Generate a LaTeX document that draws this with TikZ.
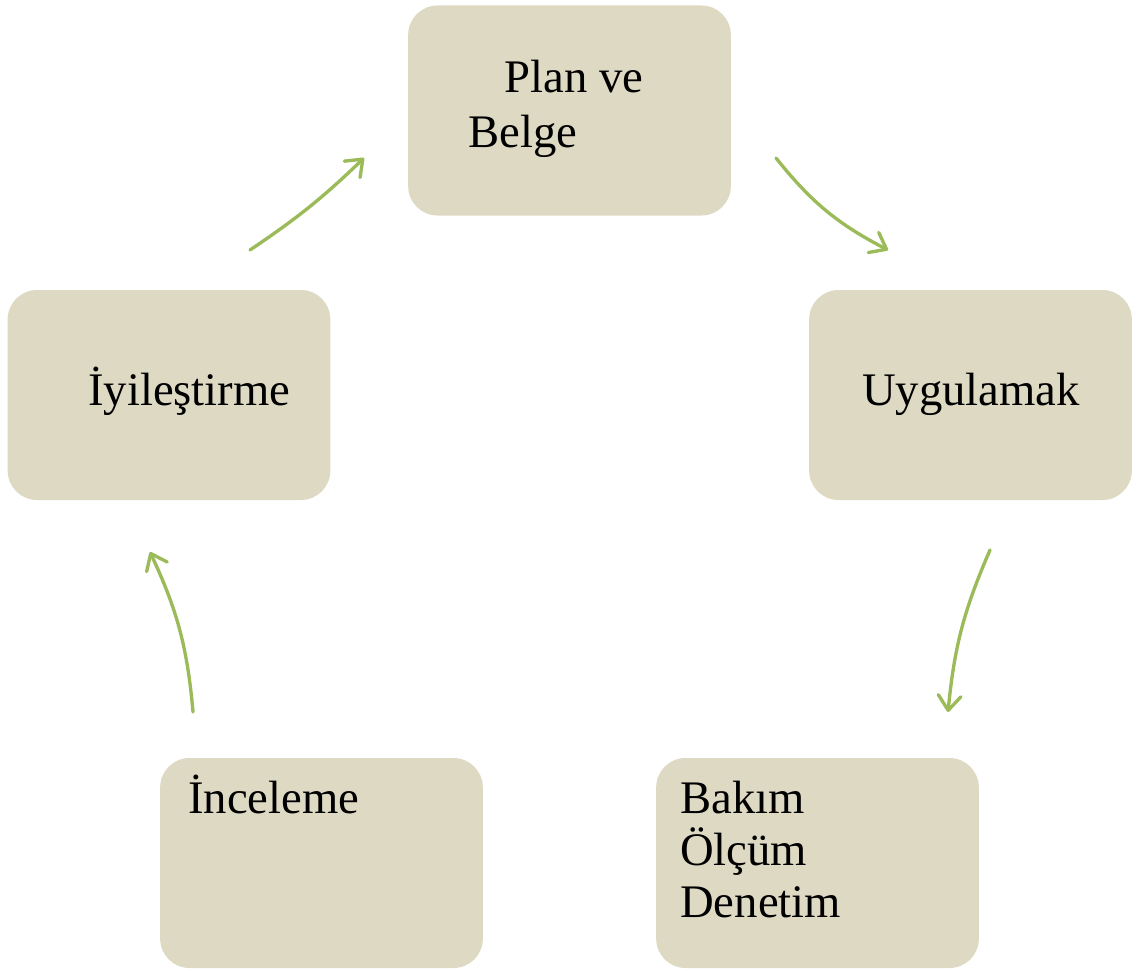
\documentclass[tikz,border=0pt]{standalone}
\usepackage{fontspec}
\setmainfont{Liberation Serif}
\usetikzlibrary{arrows.meta}
\definecolor{boxtan}{RGB}{221,217,195}
\definecolor{arrowgreen}{RGB}{155,187,89}

\begin{document}
\begin{tikzpicture}[x=0.75pt,y=0.75pt,yscale=-1,
  stagebox/.style={fill=boxtan, rounded corners=22pt, minimum width=242pt, minimum height=157.5pt, inner sep=0pt},
  stagetext/.style={anchor=base west, inner sep=0pt, font=\fontsize{35}{39}\selectfont, align=left},
  cyclearrow/.style={arrowgreen, line width=2.5pt, line cap=round, -{Straight Barb[length=11pt,width=17pt,round]}}]
\useasboundingbox (0,0) rectangle (1141,970);

% Boxes
\node[stagebox] (plan) at (569.5,110.5) {};
\node[stagebox] (uygula) at (970.5,395) {};
\node[stagebox] (bakim) at (817.5,863) {};
\node[stagebox] (incele) at (321.5,863) {};
\node[stagebox] (iyiles) at (169,395) {};

% Text Nodes (base = last line)
\node[stagetext] (plantxt) at (468,147) {\hspace*{27.5pt}Plan ve\\[2pt]Belge};
\node[stagetext] (uygulatxt) at (862,405) {Uygulamak};
\node[stagetext] (bakimtxt) at (680,917) {Bakım\\Ölçüm\\Denetim};
\node[stagetext] (inceletxt) at (188,813) {İnceleme};
\node[stagetext] (iyilestxt) at (88,405) {İyileştirme};

% Arrow ends
\coordinate (a1s) at (250,250);
\coordinate (a1e) at (364,158);
\coordinate (a2s) at (776,158);
\coordinate (a2e) at (888,250);
\coordinate (a3s) at (990,550);
\coordinate (a3e) at (948,712);
\coordinate (a4s) at (193,712);
\coordinate (a4e) at (150,552);

% Curve Lines
\draw[cyclearrow] (a1s) to[bend left=5] (a1e);
\draw[cyclearrow] (a2s) to[bend left=12] (a2e);
\draw[cyclearrow] (a3s) to[bend left=9] (a3e);
\draw[cyclearrow] (a4s) to[bend left=10] (a4e);
\end{tikzpicture}
\end{document}
